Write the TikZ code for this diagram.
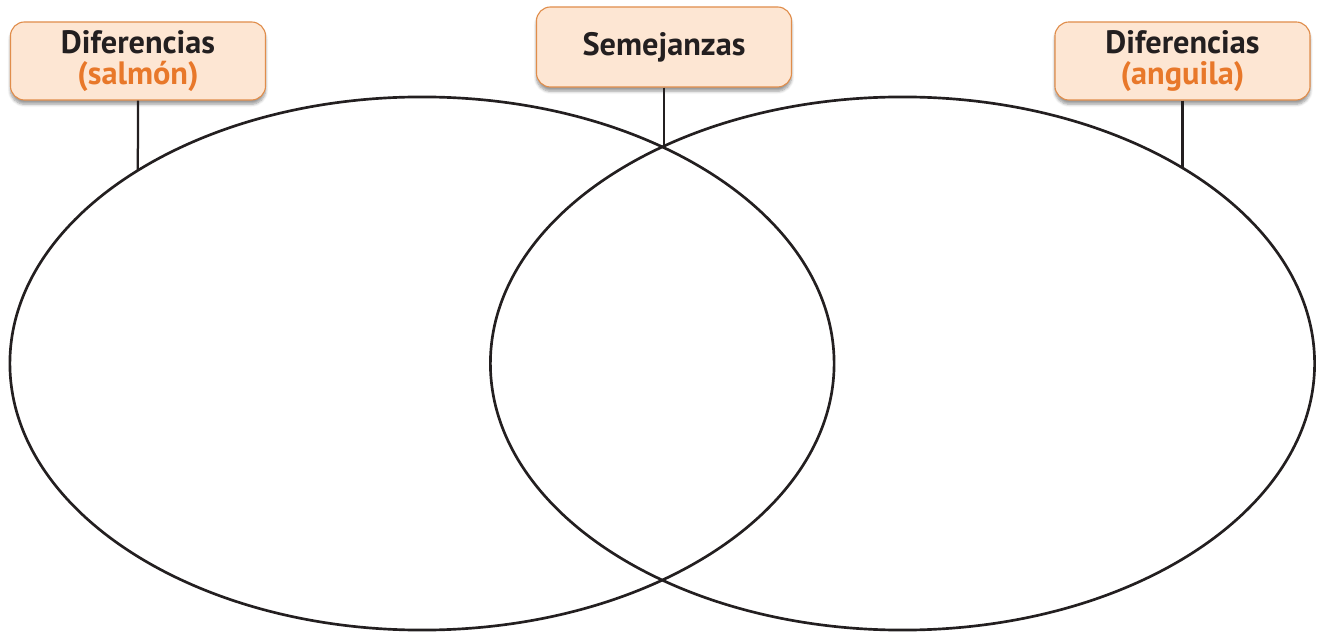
\documentclass[tikz,border=0pt]{standalone}
\usepackage{fontspec}
\setmainfont{PT Sans}
\usetikzlibrary{shadows.blur}
\definecolor{boxfill}{HTML}{FDE6D3}
\definecolor{boxline}{HTML}{E08D4B}
\definecolor{fishname}{HTML}{E8782A}
\definecolor{inkdark}{HTML}{231F20}

\begin{document}
\begin{tikzpicture}[x=0.025cm, y=0.025cm,
  label box/.style = {shape=rectangle, draw=boxline, line width=0.8pt,
    fill=boxfill, rounded corners=0.35cm, minimum width=6.375cm,
    minimum height=1.95cm, align=center, text=inkdark,
    font=\bfseries\fontsize{23}{21.5}\selectfont,
    blur shadow={shadow xshift=0pt, shadow yshift=-3pt, shadow blur steps=6, shadow opacity=40}},
  set line/.style = {draw=inkdark, line width=1.9pt},
  stem/.style = {draw=inkdark, line width=1.6pt}]
  	\useasboundingbox (0,0) rectangle (1321,632);

  	\coordinate (SalmonC) at (422,268.5);
  	\coordinate (AnguilaC) at (902.5,268.5);
  	\draw[set line] (SalmonC) ellipse (10.3cm and 6.6625cm);
  	\draw[set line] (AnguilaC) ellipse (10.3cm and 6.6625cm);

  	\path (SalmonC) ++(133.6:10.3cm and 6.6625cm) coordinate (SalmonFoot);
  	\path (SalmonC) ++(54.3:10.3cm and 6.6625cm) coordinate (CrossPt);
  	\path (AnguilaC) ++(47.2:10.3cm and 6.6625cm) coordinate (AnguilaFoot);

  	\node[label box] (DifSalmon) at (138,571) {Diferencias\\\textcolor{fishname}{(salmón)}};
  	\node[label box, minimum height=2cm] (Semejanzas) at (664,585) {Semejanzas};
  	\node[label box] (DifAnguila) at (1182.5,571) {Diferencias\\\textcolor{fishname}{(anguila)}};

  	\draw[stem] (DifSalmon.south) -- (SalmonFoot);
  	\draw[stem] (Semejanzas.south) -- (Semejanzas.south |- CrossPt);
  	\draw[stem] (DifAnguila.south) -- (DifAnguila.south |- AnguilaFoot);
\end{tikzpicture}
\end{document}
